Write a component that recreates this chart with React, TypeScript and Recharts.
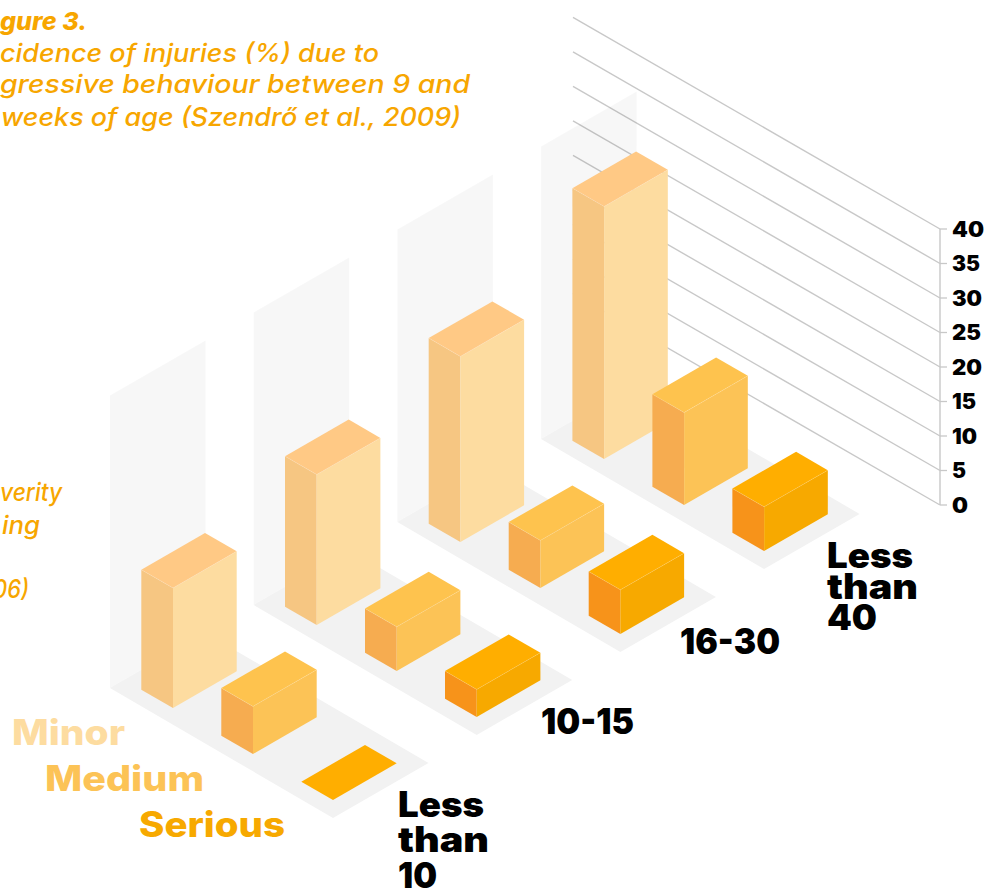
import React from 'react';
import { BarChart, Bar, XAxis, YAxis, CartesianGrid, Customized } from 'recharts';

// Rearing-group categories and injury incidence (%) per severity
const groups = ['Less than 10', '10-15', '16-30', 'Less than 40'];
const minor = [17.4, 21.8, 26.9, 36.6];
const medium = [6.9, 6.4, 6.9, 13.4];
const serious = [0, 4, 6.4, 6.4];
const yTicks = [0, 5, 10, 15, 20, 25, 30, 35, 40];
const yTickWidths = [16, 14, 25, 24, 30, 29, 30, 28, 32];

const severities = ['Minor', 'Medium', 'Serious'];
const rows = groups.map((group, i) => ({ group, Minor: minor[i], Medium: medium[i], Serious: serious[i] }));

const faces = [
  { top: '#FFC985', right: '#FDDCA0', left: '#F6C682', text: '#FDDCA0' },
  { top: '#FEC34E', right: '#FCC356', left: '#F6AC50', text: '#FCC356' },
  { top: '#FFAE00', right: '#F7A900', left: '#F7931A', text: '#F7A900' },
];

const FONT = 'Inter, sans-serif';

// Plot box and isometric projection
const WIDTH = 998;
const HEIGHT = 888;
const PLOT_TOP = 229;
const PLOT_BOTTOM = 505;
const AXIS_X = 940;
const UNIT_PX = (PLOT_BOTTOM - PLOT_TOP) / 40;
const ORIGIN = { x: 173, y: 708 };
const GROUP_STEP = { x: 143.7, y: -83 };
const SEVERITY_STEP = { x: 80, y: 46 };
const DEPTH = { x: -31.7, y: -18.3 };
const SPAN = { x: 63.7, y: -36.7 };
const WALL_UNITS = 42.4;
const GRID_START_X = 573;
const GRID_SLOPE = 0.5765;

const pts = (list: { x: number; y: number }[]) => list.map((p) => `${p.x},${p.y}`).join(' ');
const add = (p: { x: number; y: number }, dx: number, dy: number) => ({ x: p.x + dx, y: p.y + dy });

// One prism: the bar's pixel height comes from the value axis, its footprint from the projection
const prism = (severity: number) => (props: any) => {
  const { index, height } = props;
  const h = Math.abs(height || 0);
  const front = {
    x: ORIGIN.x + GROUP_STEP.x * index + SEVERITY_STEP.x * severity,
    y: ORIGIN.y + GROUP_STEP.y * index + SEVERITY_STEP.y * severity,
  };
  const left = add(front, DEPTH.x, DEPTH.y);
  const right = add(front, SPAN.x, SPAN.y);
  const up = (p: { x: number; y: number }) => add(p, 0, -h);
  const back = add(left, SPAN.x, SPAN.y);
  const c = faces[severity];
  return (
    <g>
      {h > 0 && <polygon points={pts([left, front, up(front), up(left)])} fill={c.left} />}
      {h > 0 && <polygon points={pts([front, right, up(right), up(front)])} fill={c.right} />}
      <polygon points={pts([up(left), up(front), up(right), up(back)])} fill={c.top} />
      {h > 0 && (
        <polyline
          points={pts([up(left), up(front), up(right)])}
          fill="none"
          stroke="#FFFFFF"
          strokeOpacity={0.22}
          strokeWidth={0.6}
        />
      )}
    </g>
  );
};

// Floor plate and back wall behind every group
const Panels = () => (
  <g>
    {groups.map((g, i) => {
      const a = { x: 110 + GROUP_STEP.x * i, y: 688 + GROUP_STEP.y * i };
      const b = add(a, 95.5, -55);
      const c = add(b, 223, 130);
      const d = add(a, 223, 130);
      const wall = WALL_UNITS * UNIT_PX;
      return (
        <g key={g}>
          <polygon points={pts([a, b, c, d])} fill="#F2F2F2" />
          <polygon points={pts([a, b, add(b, 0, -wall), add(a, 0, -wall)])} fill="#000" fillOpacity={0.032} />
        </g>
      );
    })}
  </g>
);

// Heading lines and side note, as far as the page shows them
const titleLines = [
  { text: 'gure 3.', x: 0, y: 30, width: 87, weight: 800 },
  { text: 'cidence of injuries (%) due to', x: 0, y: 61.5, width: 379, weight: 500 },
  { text: 'gressive behaviour between 9 and', x: 0, y: 93, width: 470, weight: 500 },
  { text: 'weeks of age (Szendrő et al., 2009)', x: 1, y: 125.5, width: 460, weight: 500 },
  { text: 'verity', x: 0, y: 501, width: 62, weight: 500 },
  { text: 'ing', x: 2, y: 534, width: 38, weight: 500 },
  { text: '06)', x: -7, y: 598, width: 36, weight: 500 },
];
const keyPlaces = [
  { x: 12, y: 745, width: 113 },
  { x: 45, y: 791, width: 159 },
  { x: 139, y: 837, width: 146 },
];

const Annotations = () => (
  <g>
    {titleLines.map((t) => (
      <text
        key={t.text}
        x={t.x}
        y={t.y}
        textLength={t.width}
        lengthAdjust="spacingAndGlyphs"
        fontFamily={FONT}
        fontStyle="italic"
        fontSize={25}
        fontWeight={t.weight}
        fill="#F7A600"
      >
        {t.text}
      </text>
    ))}
    {severities.map((s, i) => (
      <text
        key={s}
        x={keyPlaces[i].x}
        y={keyPlaces[i].y}
        textLength={keyPlaces[i].width}
        lengthAdjust="spacingAndGlyphs"
        fontFamily={FONT}
        fontSize={35}
        fontWeight={800}
        fill={faces[i].text}
      >
        {s}
      </text>
    ))}
  </g>
);

const labelPlaces = [
  { x: 398, y: 816.5, leading: 35.5, widths: [86, 91, 39] },
  { x: 541, y: 734, leading: 0, widths: [93] },
  { x: 680, y: 654, leading: 0, widths: [100] },
  { x: 827, y: 568, leading: 31, widths: [86, 91, 50] },
];

// Group names under each floor plate, wrapped word by word inside one text element
const GroupTick = (props: any) => {
  const { index, payload } = props;
  const place = labelPlaces[index];
  const words = String(payload.value).split(' ');
  return (
    <text x={place.x} y={place.y} fontFamily={FONT} fontSize={35} fontWeight={900} fill="#000">
      {words.map((w: string, i: number) => (
        <tspan
          key={w}
          x={place.x}
          y={place.y + i * place.leading}
          textLength={place.widths[i]}
          lengthAdjust="spacingAndGlyphs"
        >
          {w}
        </tspan>
      ))}
    </text>
  );
};

const ValueTick = (props: any) => (
  <text
    x={952}
    y={props.y + 7.5}
    textLength={yTickWidths[props.index]}
    lengthAdjust="spacingAndGlyphs"
    fontFamily={FONT}
    fontSize={21}
    fontWeight={900}
    fill="#000"
  >
    {props.payload.value}
  </text>
);

const SlantedLine = (props: any) => {
  const { y1, x2 } = props;
  const run = x2 - GRID_START_X;
  return <line x1={GRID_START_X} y1={y1 - run * GRID_SLOPE} x2={x2} y2={y1} stroke="#C8C8C8" strokeWidth={1.4} />;
};

export default function App() {
  return (
    <div style={{ position: 'absolute', left: 0, top: 0, width: WIDTH, height: HEIGHT, overflow: 'hidden' }}>
      <BarChart
        width={WIDTH}
        height={HEIGHT}
        data={rows}
        margin={{ top: PLOT_TOP, right: 0, bottom: HEIGHT - PLOT_BOTTOM - 1, left: 0 }}
      >
        <Customized component={Panels} />
        <CartesianGrid vertical={false} horizontal={SlantedLine} syncWithTicks />
        <XAxis dataKey="group" height={1} interval={0} axisLine={false} tickLine={false} tick={GroupTick} />
        <YAxis
          orientation="right"
          width={WIDTH - AXIS_X}
          domain={[0, 40]}
          ticks={yTicks}
          interval={0}
          tickSize={7}
          stroke="#C8C8C8"
          tickLine={{ stroke: '#C8C8C8', strokeWidth: 1.3 }}
          axisLine={{ stroke: '#C8C8C8', strokeWidth: 1.4 }}
          tick={ValueTick}
        />
        {severities.map((s, i) => (
          <Bar key={s} dataKey={s} name={s} fill={faces[i].right} isAnimationActive={false} shape={prism(i)} />
        ))}
        <Customized component={Annotations} />
      </BarChart>
    </div>
  );
}
